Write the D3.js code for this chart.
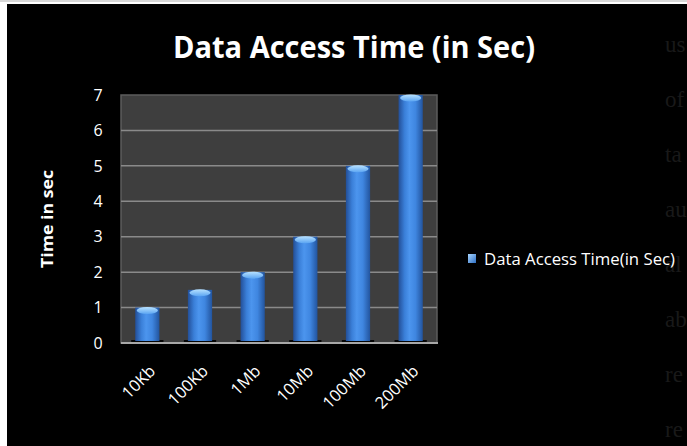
<!DOCTYPE html>
<html><head><meta charset="utf-8">
<script src="https://cdn.jsdelivr.net/npm/d3@7"></script>
<style>html,body{margin:0;padding:0;background:#fff;}svg{display:block;}</style>
</head><body>
<svg id="c" width="687" height="446"></svg>
<script>
const categories = ["10Kb", "100Kb", "1Mb", "10Mb", "100Mb", "200Mb"];
const values = [1, 1.5, 2, 3, 5, 7];
const yTicks = [0, 1, 2, 3, 4, 5, 6, 7];
const seriesName = "Data Access Time(in Sec)";
const titleText = "Data Access Time (in Sec)";
const yAxisTitle = "Time in sec";
const bleedText = ["us", "of", "ta", "au", "al", "ab", "re", "re"];

const svg = d3.select("#c");
const font = "'Open Sans', sans-serif";

// background
svg.append("rect").attr("x", 7).attr("y", 4).attr("width", 680).attr("height", 442).attr("fill", "#000");
svg.append("rect").attr("x", 0).attr("y", 0).attr("width", 687).attr("height", 2).attr("fill", "#d8d8d8");

// bleed-through text on right
svg.append("g").selectAll("text").data(bleedText).join("text")
  .attr("x", 665).attr("y", (d, i) => 52 + i * 55)
  .attr("font-family", "'Liberation Serif', serif").attr("font-size", 23)
  .attr("fill", "#191919").text(d => d);

const defs = svg.append("defs");
const bg = defs.append("linearGradient").attr("id", "barG").attr("x1", 0).attr("x2", 1).attr("y1", 0).attr("y2", 0);
[["0%", "#234f98"], ["25%", "#3a7fd8"], ["45%", "#4c95ee"], ["70%", "#3f86e0"], ["100%", "#22549e"]]
  .forEach(s => bg.append("stop").attr("offset", s[0]).attr("stop-color", s[1]));
const cg = defs.append("linearGradient").attr("id", "capG").attr("x1", 0).attr("x2", 0).attr("y1", 0).attr("y2", 1);
[["0%", "#b8e2ff"], ["100%", "#5aa4f2"]].forEach(s => cg.append("stop").attr("offset", s[0]).attr("stop-color", s[1]));
const lg = defs.append("linearGradient").attr("id", "legG").attr("x1", 0).attr("x2", 1).attr("y1", 0).attr("y2", 1);
[["0%", "#a9d6ff"], ["100%", "#2e6fc4"]].forEach(s => lg.append("stop").attr("offset", s[0]).attr("stop-color", s[1]));

const plot = {x0: 121, x1: 437, y0: 95, y1: 343};
const x = d3.scaleBand().domain(categories).range([plot.x0, plot.x1]).paddingInner(0.54).paddingOuter(0.27);
const y = d3.scaleLinear().domain([0, 7]).range([plot.y1, plot.y0]);

// plot area
svg.append("rect").attr("x", plot.x0).attr("y", plot.y0).attr("width", plot.x1 - plot.x0).attr("height", plot.y1 - plot.y0)
  .attr("fill", "#3e3e3e").attr("stroke", "#5c5c5c").attr("stroke-width", 1.5);

// gridlines
svg.append("g").selectAll("line").data(yTicks.filter(t => t > 0 && t < 7)).join("line")
  .attr("x1", plot.x0).attr("x2", plot.x1).attr("y1", d => y(d)).attr("y2", d => y(d))
  .attr("stroke", "#8a8a8a").attr("stroke-width", 1.5);

// bottom axis line
svg.append("line").attr("x1", plot.x0).attr("x2", plot.x1 + 1).attr("y1", plot.y1).attr("y2", plot.y1)
  .attr("stroke", "#a8a8a8").attr("stroke-width", 2);

// bars
const bars = svg.append("g").selectAll("g").data(categories).join("g");
bars.append("rect").attr("x", d => x(d) - 4).attr("y", plot.y1 - 3).attr("width", x.bandwidth() + 8).attr("height", 2)
  .attr("fill", "#050505");
bars.append("rect").attr("x", d => x(d)).attr("width", x.bandwidth())
  .attr("y", (d, i) => y(values[i])).attr("height", (d, i) => y(0) - y(values[i]) - 2)
  .attr("fill", "url(#barG)");
bars.append("ellipse").attr("cx", d => x(d) + x.bandwidth() / 2).attr("cy", (d, i) => y(values[i]) + 3)
  .attr("rx", x.bandwidth() / 2 - 1.5).attr("ry", 3.5).attr("fill", "url(#capG)");

// y axis tick labels
svg.append("g").selectAll("text").data(yTicks).join("text")
  .attr("x", 98).attr("y", d => y(d)).attr("dy", "0.36em").attr("text-anchor", "middle")
  .attr("font-family", font).attr("font-size", 16).attr("fill", "#fff").text(d => d);

// x labels
svg.append("g").selectAll("text").data(categories).join("text")
  .attr("transform", d => `translate(${x(d) + x.bandwidth() / 2 + 5},${plot.y1 + 25}) rotate(-45)`)
  .attr("text-anchor", "end").attr("dy", "0.35em")
  .attr("font-family", font).attr("font-size", 16.5).attr("fill", "#fff").text(d => d);

// y axis title
svg.append("text").attr("transform", "translate(53,219) rotate(-90)").attr("text-anchor", "middle")
  .attr("font-family", font).attr("font-weight", "bold").attr("font-size", 16).attr("fill", "#fff")
  .attr("textLength", 98).attr("lengthAdjust", "spacingAndGlyphs").text(yAxisTitle);

// title
svg.append("text").attr("x", 173).attr("y", 58)
  .attr("font-family", font).attr("font-weight", "bold").attr("font-size", 31).attr("fill", "#fff")
  .attr("textLength", 362).attr("lengthAdjust", "spacingAndGlyphs").text(titleText);

// legend
svg.append("rect").attr("x", 468).attr("y", 254).attr("width", 8).attr("height", 9).attr("fill", "url(#legG)");
svg.append("text").attr("x", 484).attr("y", 265)
  .attr("font-family", font).attr("font-size", 15.5).attr("fill", "#fff")
  .attr("textLength", 191).attr("lengthAdjust", "spacingAndGlyphs").text(seriesName);
</script>
</body></html>
